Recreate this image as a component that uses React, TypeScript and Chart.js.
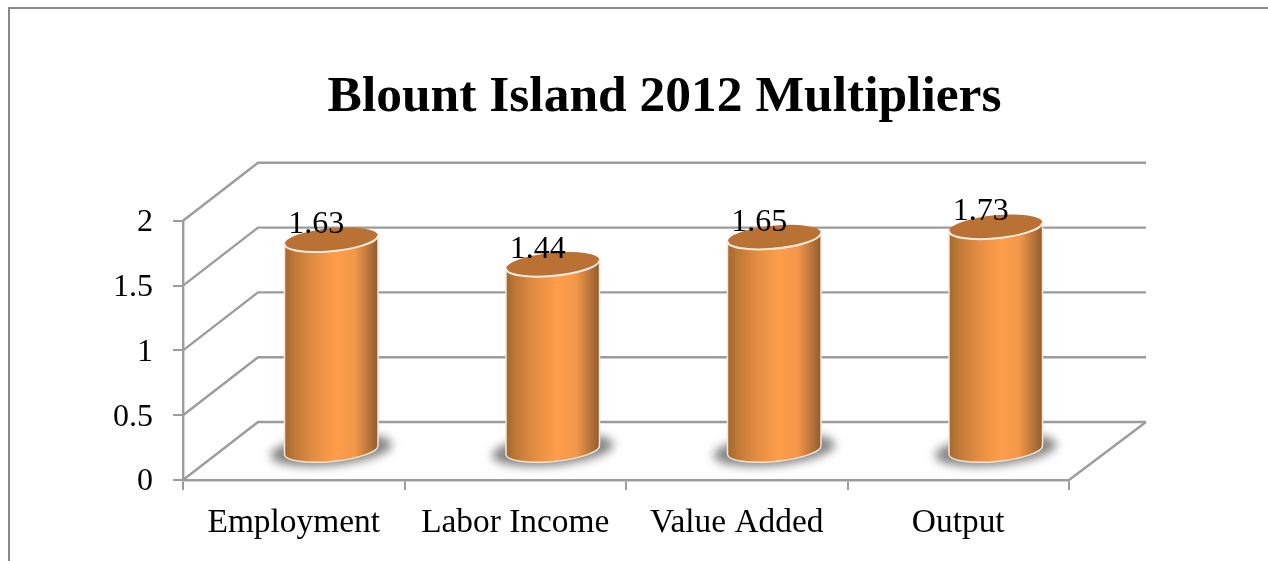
import React, { useEffect, useRef } from "react";
import { Chart, registerables } from "chart.js";

Chart.register(...registerables);

const titleText = "Blount Island 2012 Multipliers";
const categories = ["Employment", "Labor Income", "Value Added", "Output"];
const multipliers = [1.63, 1.44, 1.65, 1.73];
const valueLabels = ["1.63", "1.44", "1.65", "1.73"];

const FONT = "'Liberation Serif', serif";
const LINE = "#9c9c9c";
const DX = 75;
const DY = 58;
const BAR_DX = 37.5;
const TILT = (-5.5 * Math.PI) / 180;
const RY = 11.5;

const ellipsePath = (ctx: CanvasRenderingContext2D, cx: number, cy: number, rx: number, ry: number) => {
  ctx.beginPath();
  ctx.ellipse(cx, cy, rx, ry, TILT, 0, Math.PI * 2);
};

const plot3d = {
  id: "plot3d",
  afterLayout(chart: any) {
    if (chart.titleBlock) {
      chart.titleBlock.left += 125;
      chart.titleBlock.right += 125;
    }
  },
  beforeDatasetsDraw(chart: any) {
    const { ctx, scales } = chart;
    const { x, y } = scales;
    ctx.save();
    ctx.strokeStyle = LINE;
    ctx.lineWidth = 2.4;
    y.ticks.forEach((t: any) => {
      const py = y.getPixelForValue(t.value);
      ctx.beginPath();
      ctx.moveTo(x.left, py);
      ctx.lineTo(x.left + DX, py - DY);
      ctx.lineTo(x.right + DX + 2, py - DY);
      ctx.stroke();
    });
    const base = y.getPixelForValue(0);
    ctx.beginPath();
    ctx.moveTo(x.right, base);
    ctx.lineTo(x.right + DX + 2, base - DY);
    ctx.stroke();
    ctx.restore();
  },
  afterDatasetsDraw(chart: any) {
    const { ctx } = chart;
    const meta = chart.getDatasetMeta(0);
    meta.data.forEach((el: any) => {
      const rx = el.width / 2;
      const cx = el.x + BAR_DX;
      const topY = el.y - DY / 2;
      const botY = el.base - DY / 2;
      const dx = rx * Math.cos(TILT);
      const dy = rx * Math.sin(TILT);
      ctx.save();
      // ground shadow
      ctx.filter = "blur(5px)";
      ctx.fillStyle = "#858585";
      ellipsePath(ctx, cx, botY, rx + 14, RY + 4);
      ctx.fill();
      ctx.filter = "none";
      // body
      const grad = ctx.createLinearGradient(cx - rx, 0, cx + rx, 0);
      grad.addColorStop(0, "#a2682f");
      grad.addColorStop(0.12, "#c27a38");
      grad.addColorStop(0.3, "#e28c42");
      grad.addColorStop(0.55, "#ff9e4b");
      grad.addColorStop(0.75, "#f3974a");
      grad.addColorStop(0.9, "#b8743a");
      grad.addColorStop(1, "#8f5a2c");
      ctx.beginPath();
      ctx.moveTo(cx - dx, topY - dy);
      ctx.lineTo(cx - dx, botY - dy);
      ctx.ellipse(cx, botY, rx, RY, TILT, Math.PI, 0, true);
      ctx.lineTo(cx + dx, topY + dy);
      ctx.closePath();
      ctx.fillStyle = grad;
      ctx.fill();
      ctx.strokeStyle = "#f3e6da";
      ctx.lineWidth = 1.5;
      ctx.stroke();
      // top cap
      ellipsePath(ctx, cx, topY, rx, RY);
      ctx.fillStyle = "#b97233";
      ctx.fill();
      ctx.beginPath();
      ctx.ellipse(cx, topY, rx, RY, TILT, Math.PI * 1.02, -0.02, true);
      ctx.strokeStyle = "#f7ece2";
      ctx.lineWidth = 2;
      ctx.stroke();
      ctx.restore();
    });
    ctx.save();
    ctx.fillStyle = "#000";
    ctx.font = `32px ${FONT}`;
    ctx.textAlign = "center";
    ctx.textBaseline = "middle";
    meta.data.forEach((el: any, i: number) => {
      ctx.fillText(valueLabels[i], el.x + BAR_DX - 15, el.y - DY / 2 - 15);
    });
    ctx.restore();
  },
};

export default function App() {
  const ref = useRef<HTMLCanvasElement | null>(null);
  useEffect(() => {
    if (!ref.current) return;
    const chart = new Chart(ref.current, {
      type: "bar",
      data: {
        labels: categories,
        datasets: [
          {
            label: "Multiplier",
            data: multipliers,
            backgroundColor: "rgba(0,0,0,0)",
            barPercentage: 0.424,
            categoryPercentage: 1,
          },
        ],
      },
      options: {
        animation: false,
        responsive: false,
        devicePixelRatio: 1,
        layout: { padding: { left: 0, right: 199, top: 0, bottom: 0 } },
        plugins: {
          legend: { display: false },
          tooltip: { enabled: false },
          title: {
            display: true,
            text: titleText,
            color: "#000",
            font: { family: FONT, size: 51.5, weight: "bold", lineHeight: 1.2 },
            padding: { top: 58, bottom: 92 },
          },
        },
        scales: {
          x: {
            afterFit: (s: any) => {
              s.height = 81;
            },
            grid: { drawOnChartArea: false, color: LINE, tickLength: 10, lineWidth: 2 },
            border: { color: LINE, width: 2.4 },
            ticks: {
              color: "#000",
              font: { family: FONT, size: 33.4 },
              padding: 13,
              maxRotation: 0,
              autoSkip: false,
            },
          },
          y: {
            min: 0,
            max: 2,
            afterFit: (s: any) => {
              s.width = 173;
            },
            grid: { drawOnChartArea: false, color: LINE, tickLength: 10, lineWidth: 2 },
            border: { color: LINE, width: 2.4 },
            ticks: {
              stepSize: 0.5,
              color: "#000",
              font: { family: FONT, size: 32 },
              padding: 20,
              labelOffset: 2,
              callback: (v: any) => String(v),
            },
          },
        },
      },
      plugins: [plot3d],
    } as any);
    return () => chart.destroy();
  }, []);
  return (
    <div
      style={{
        position: "absolute",
        left: 8,
        top: 7,
        width: 1258,
        height: 552,
        borderTop: "2px solid #888",
        borderLeft: "2px solid #888",
        background: "#fff",
      }}
    >
      <canvas ref={ref} width={1258} height={552} style={{ display: "block" }} />
    </div>
  );
}
